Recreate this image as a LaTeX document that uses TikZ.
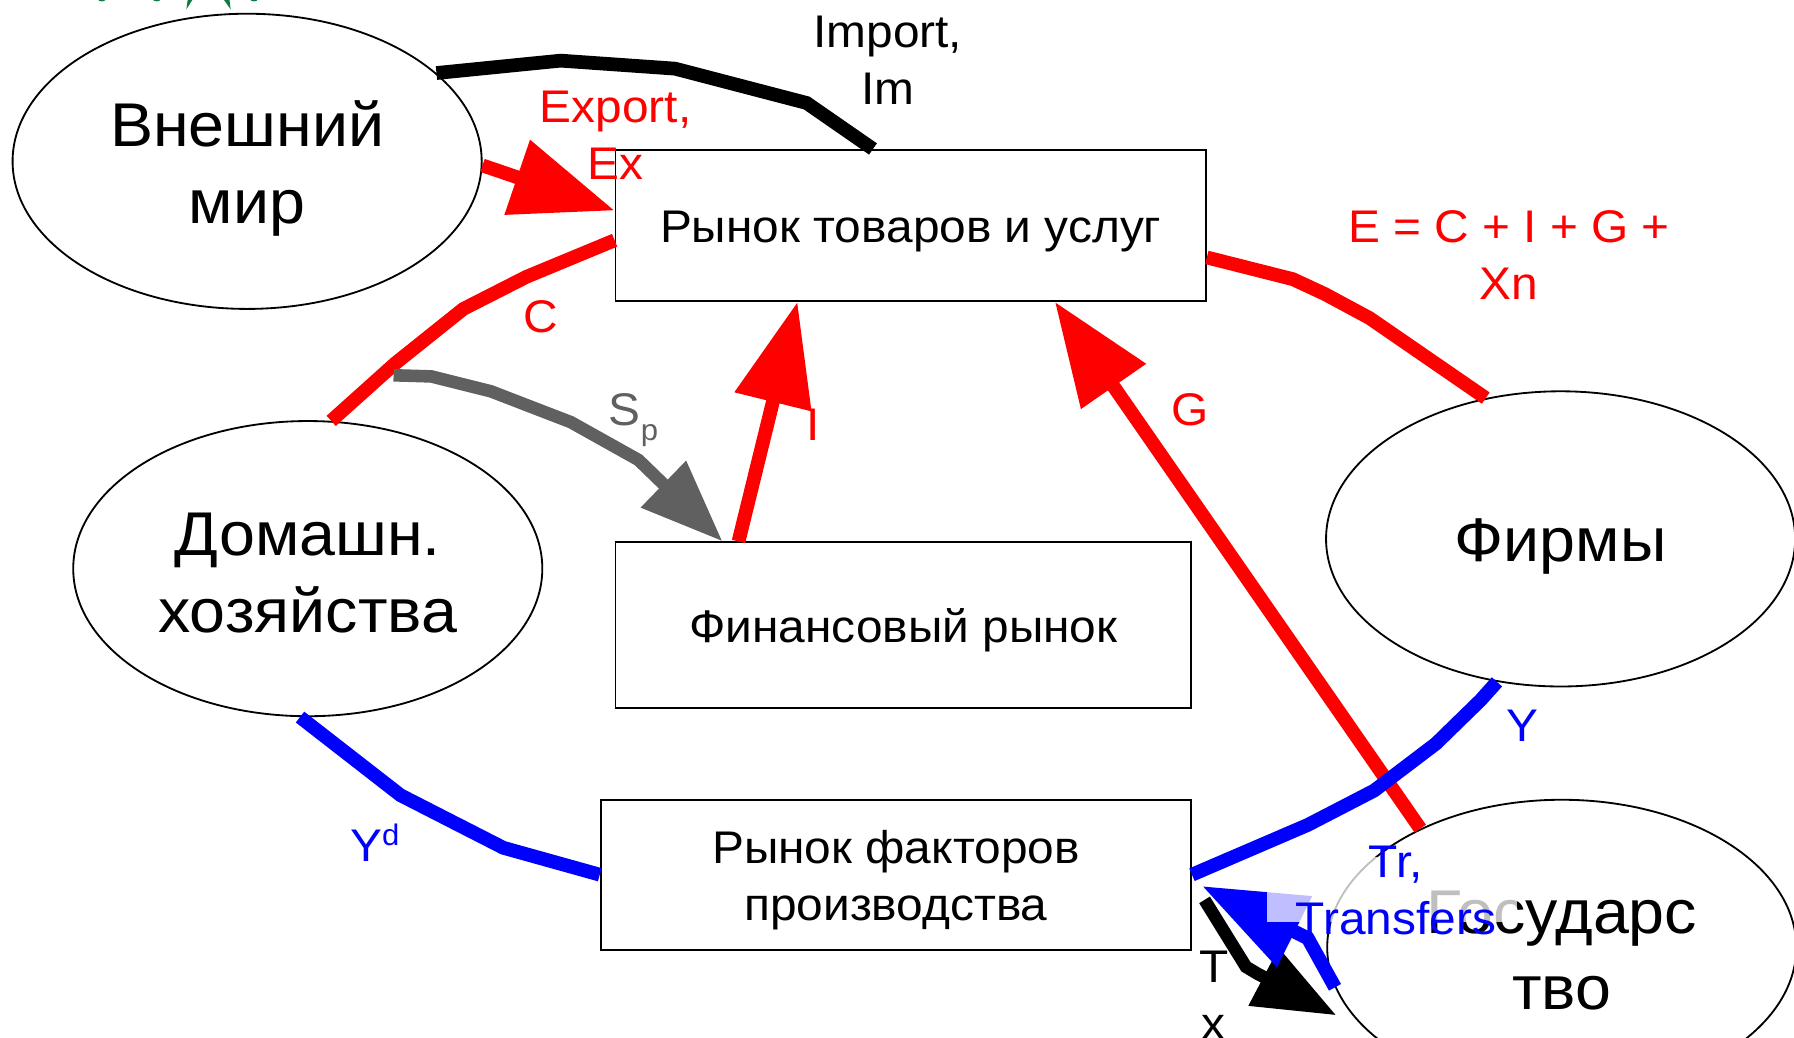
\documentclass[tikz,border=0pt]{standalone}
\usepackage{fontspec}
\setmainfont{Liberation Sans}[FakeStretch=1.045]
\usetikzlibrary{arrows.meta,shapes.geometric}
\definecolor{flowred}{RGB}{255,0,0}
\definecolor{flowblue}{RGB}{0,0,255}
\definecolor{flowgray}{RGB}{96,96,96}
\definecolor{logogreen}{RGB}{16,122,66}

\begin{document}
\begin{tikzpicture}[x=1pt, y=-1pt,
  agent/.style={draw, ellipse, line width=1.6pt, minimum width=410pt, minimum height=258pt,
    inner sep=0pt, align=center, font=\fontsize{54}{67}\selectfont},
  market/.style={draw, rectangle, line width=1.6pt, inner sep=0pt, align=center,
    font=\fontsize{40}{50}\selectfont},
  flow/.style={line width=12pt},
  lbl/.style={inner sep=0pt, align=center, font=\fontsize{40}{50}\selectfont},
  bigtip/.style={-{Triangle[length=90pt,width=66pt]}},
  smalltip/.style={-{Triangle[length=72pt,width=54pt]}}]
\clip (0,0) rectangle (1568,907);

% scraps of a logo at the top edge
\fill[logogreen] (162.9,8.2) -- (164,0) -- (168.1,0) -- cycle;
\fill[logogreen] (201.6,8.2) -- (200.6,0) -- (195.8,0) -- cycle;
\foreach \u in {89,137,222}
  \fill[logogreen] (\u,0) ellipse (3 and 1.2);

% agents and markets (the rules push the text a little down)
\node[agent] (world) at (216,141) {\rule{0pt}{53pt}Внешний\\мир};
\node[agent] (house) at (269,497) {\rule{0pt}{45pt}Домашн.\\хозяйства};
\node[agent] (firms) at (1364,471) {\rule{0pt}{51pt}Фирмы};
\node[agent] (state) at (1365,828) {\rule{0pt}{43pt}Государс\\тво};
\node[market, minimum width=516pt, minimum height=132pt] (goods) at (796,197) {\rule{0pt}{39pt}Рынок товаров и услуг};
\node[market, minimum width=503pt, minimum height=145pt] (finance) at (789.5,546.5) {\rule{0pt}{39pt}Финансовый рынок};
\node[market, minimum width=516pt, minimum height=131pt] (factors) at (783,764.5) {\rule{0pt}{39pt}Рынок факторов\\производства};

% foreign trade
\draw[flow] (world.25) -- (490,53) -- (590,60) -- (705,90) -- ([xshift=-33pt]goods.north);
\draw[flow, flowred, bigtip] (world.-1) -- ([yshift=13pt]goods.west);

% spending
\draw[flow, flowred] ([yshift=-13pt]goods.west) -- (460,242) -- (405,270) -- (345,318) -- (house.81);
\coordinate (save) at (344,328);
\draw[flow, flowgray, line width=11pt, smalltip] (save) -- (377,329) -- (429,342) -- (499,369) -- (558,402)
  -- ([xshift=-158pt]finance.north);
\draw[flow, flowred, bigtip] ([xshift=-144pt]finance.north) -- ([xshift=-99pt]goods.south);
\draw[flow, flowred, bigtip] (state.140) -- ([xshift=126pt]goods.south);
\draw[flow, flowred] ([yshift=-28pt]goods.east) -- (1130,244) -- (1158,257) -- (1197,278) -- (firms.118);

% incomes
\draw[flow, flowblue] (firms.-114) -- (1294,612) -- (1255,650) -- (1201,691) -- (1143,721) -- (factors.east);
\draw[flow, flowblue] (house.-93) -- (350,695) -- (393,717) -- (440,741) -- (factors.west);

% taxes and transfers
\draw[flow, line width=11pt, smalltip] ([xshift=11pt,yshift=-22pt]factors.east) -- (1089,845) -- (1099,851)
  -- ([xshift=-14pt]state.198);
\draw[flow, flowblue, bigtip] (state.190) -- (1143,820) -- ([xshift=9pt,yshift=-10pt]factors.east);
\fill[white, opacity=0.75] (1107,749) rectangle (1326,806);

% labels
\node[lbl] (imlbl) at (776,53) {Import,\\Im};
\node[lbl, flowred] (exlbl) at (538,118) {Export,\\Ex};
\node[lbl, flowred, anchor=base] (clbl) at (473,291) {C};
\node[lbl, flowgray, anchor=base west] (splbl) at (532,372) {S\raisebox{-13pt}{\fontsize{26}{26}\selectfont p}};
\node[lbl, flowred, anchor=base] (ilbl) at (711,385) {I};
\node[lbl, flowred, anchor=base] (glbl) at (1040,372) {G};
\node[lbl, flowred] (elbl) at (1319,223) {E = C + I + G +\\Xn};
\node[lbl, flowblue, anchor=base] (ylbl) at (1331,648) {Y};
\node[lbl, flowblue, anchor=base west] (ydlbl) at (306,753) {Y\raisebox{14pt}{\fontsize{26}{26}\selectfont d}};
\node[lbl, flowblue] (trlbl) at (1220,778) {Tr,\\Transfers};
\node[lbl] (txlbl) at (1061,870) {T\\x};
\end{tikzpicture}
\end{document}
